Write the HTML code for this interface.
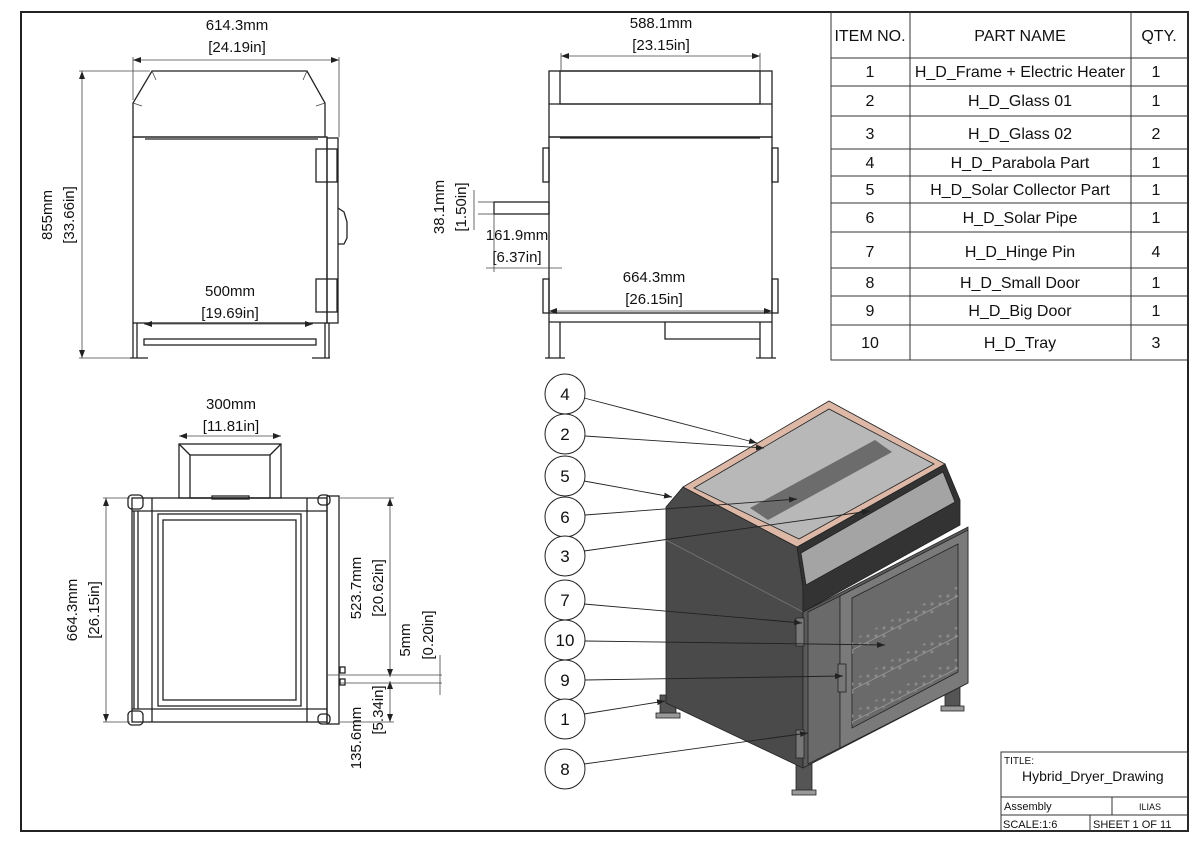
<!DOCTYPE html>
<html><head><meta charset="utf-8"><style>
html,body{margin:0;padding:0;background:#fff}
svg{display:block}
text{font-family:"Liberation Sans",sans-serif;fill:#111}
</style></head><body>
<svg width="1200" height="848" viewBox="0 0 1200 848" xmlns="http://www.w3.org/2000/svg">
<defs>
<marker id="a" markerWidth="8" markerHeight="6" refX="8" refY="3" orient="auto-start-reverse" markerUnits="userSpaceOnUse"><path d="M0,0 L8,3 L0,6z" fill="#222"/></marker>
<pattern id="dots" width="8" height="8" patternUnits="userSpaceOnUse"><circle cx="4" cy="4" r="1.6" fill="#888"/></pattern>
</defs>
<rect x="0" y="0" width="1200" height="848" fill="#fff"/>
<rect x="21" y="12" width="1167" height="819" fill="none" stroke="#222" stroke-width="2"/>

<!-- BOM table -->
<g stroke="#333" stroke-width="1" fill="none">
<rect x="831" y="12" width="357" height="348"/>
<line x1="910" y1="12" x2="910" y2="360"/><line x1="1131" y1="12" x2="1131" y2="360"/>
<line x1="831" y1="58" x2="1188" y2="58"/><line x1="831" y1="86" x2="1188" y2="86"/>
<line x1="831" y1="116" x2="1188" y2="116"/><line x1="831" y1="149" x2="1188" y2="149"/>
<line x1="831" y1="176" x2="1188" y2="176"/><line x1="831" y1="203" x2="1188" y2="203"/>
<line x1="831" y1="232" x2="1188" y2="232"/><line x1="831" y1="268" x2="1188" y2="268"/>
<line x1="831" y1="296" x2="1188" y2="296"/><line x1="831" y1="325" x2="1188" y2="325"/>
</g>
<g font-size="16" text-anchor="middle">
<text x="870" y="41">ITEM NO.</text><text x="1020" y="41">PART NAME</text><text x="1159" y="41">QTY.</text>
<text x="870" y="77">1</text><text x="1020" y="77">H_D_Frame + Electric Heater</text><text x="1156" y="77">1</text>
<text x="870" y="106">2</text><text x="1020" y="106">H_D_Glass 01</text><text x="1156" y="106">1</text>
<text x="870" y="139">3</text><text x="1020" y="139">H_D_Glass 02</text><text x="1156" y="139">2</text>
<text x="870" y="168">4</text><text x="1020" y="168">H_D_Parabola Part</text><text x="1156" y="168">1</text>
<text x="870" y="195">5</text><text x="1020" y="195">H_D_Solar Collector Part</text><text x="1156" y="195">1</text>
<text x="870" y="223">6</text><text x="1020" y="223">H_D_Solar Pipe</text><text x="1156" y="223">1</text>
<text x="870" y="257">7</text><text x="1020" y="257">H_D_Hinge Pin</text><text x="1156" y="257">4</text>
<text x="870" y="288">8</text><text x="1020" y="288">H_D_Small Door</text><text x="1156" y="288">1</text>
<text x="870" y="316">9</text><text x="1020" y="316">H_D_Big Door</text><text x="1156" y="316">1</text>
<text x="870" y="348">10</text><text x="1020" y="348">H_D_Tray</text><text x="1156" y="348">3</text>
</g>

<!-- Front view -->
<g stroke="#222" stroke-width="1.3" fill="none">
<path d="M133,137 L133,103 L152,71 L307,71 L325,103 L325,137 Z"/>
<line x1="145" y1="139" x2="318" y2="139"/>
<rect x="133" y="137" width="194" height="186"/>
<rect x="327" y="138" width="11" height="185"/>
<rect x="316" y="149" width="21" height="33"/><rect x="316" y="279" width="21" height="33"/>
<path d="M338,208 L344,212 L347,222 L347,238 L344,244 L338,244"/>
<line x1="133" y1="323" x2="133" y2="358"/><line x1="137" y1="323" x2="137" y2="358"/>
<line x1="325" y1="323" x2="325" y2="358"/><line x1="329" y1="323" x2="329" y2="358"/>
<rect x="144" y="339" width="172" height="6"/>
<line x1="130" y1="358" x2="148" y2="358"/><line x1="312" y1="358" x2="330" y2="358"/>
</g>
<g stroke="#444" stroke-width="0.8" fill="none">
<path d="M152,71 L156,80 M307,71 L303,80 M133,103 L142,106 M325,103 L316,106"/>
<line x1="133" y1="60" x2="339" y2="60" marker-start="url(#a)" marker-end="url(#a)"/>
<line x1="133" y1="57" x2="133" y2="100"/><line x1="339" y1="57" x2="339" y2="137"/>
<line x1="82" y1="71" x2="82" y2="358" marker-start="url(#a)" marker-end="url(#a)"/>
<line x1="79" y1="71" x2="150" y2="71"/><line x1="79" y1="358" x2="130" y2="358"/>
<line x1="144" y1="324" x2="313" y2="324" marker-start="url(#a)" marker-end="url(#a)"/>
</g>
<g font-size="15" text-anchor="middle">
<text x="237" y="30">614.3mm</text><text x="237" y="52">[24.19in]</text>
<text x="230" y="296">500mm</text><text x="230" y="318">[19.69in]</text>
<text transform="translate(52,215) rotate(-90)">855mm</text>
<text transform="translate(74,215) rotate(-90)">[33.66in]</text>
</g>

<!-- Side view -->
<g stroke="#222" stroke-width="1.3" fill="none">
<rect x="549" y="71" width="223" height="66"/>
<rect x="560" y="71" width="200" height="33"/>
<line x1="549" y1="104" x2="772" y2="104"/>
<line x1="560" y1="138" x2="760" y2="138"/>
<rect x="549" y="137" width="223" height="176"/>
<rect x="543" y="148" width="6" height="34"/><rect x="543" y="279" width="6" height="34"/>
<rect x="772" y="148" width="6" height="34"/><rect x="772" y="279" width="6" height="34"/>
<rect x="494" y="202" width="55" height="12"/>
<line x1="549" y1="322" x2="772" y2="322"/>
<line x1="549" y1="313" x2="549" y2="358"/><line x1="560" y1="322" x2="560" y2="358"/>
<line x1="760" y1="322" x2="760" y2="358"/><line x1="772" y1="313" x2="772" y2="358"/>
<path d="M665,322 L665,339 L760,339"/>
<line x1="545" y1="358" x2="565" y2="358"/><line x1="756" y1="358" x2="776" y2="358"/>
</g>
<g stroke="#444" stroke-width="0.8" fill="none">
<line x1="561" y1="56" x2="760" y2="56" marker-start="url(#a)" marker-end="url(#a)"/>
<line x1="561" y1="53" x2="561" y2="71"/><line x1="760" y1="53" x2="760" y2="71"/>
<line x1="549" y1="311" x2="772" y2="311" marker-start="url(#a)" marker-end="url(#a)"/>
<line x1="478" y1="202" x2="494" y2="202"/><line x1="478" y1="214" x2="494" y2="214"/>
<line x1="474" y1="190" x2="474" y2="230"/>
<line x1="486" y1="268" x2="562" y2="268"/>
<line x1="494" y1="214" x2="494" y2="272"/>
</g>
<g font-size="15" text-anchor="middle">
<text x="661" y="28">588.1mm</text><text x="661" y="50">[23.15in]</text>
<text x="654" y="282">664.3mm</text><text x="654" y="304">[26.15in]</text>
<text x="517" y="240">161.9mm</text><text x="517" y="262">[6.37in]</text>
<text transform="translate(444,207) rotate(-90)">38.1mm</text>
<text transform="translate(466,207) rotate(-90)">[1.50in]</text>
</g>

<!-- Top (plan) view -->
<g stroke="#222" stroke-width="1.3" fill="none">
<rect x="179" y="444" width="102" height="54"/>
<rect x="190" y="455" width="80" height="43"/>
<line x1="179" y1="444" x2="190" y2="455"/><line x1="281" y1="444" x2="270" y2="455"/>
<rect x="212" y="496" width="37" height="3"/>
<rect x="132" y="498" width="195" height="224"/>
<line x1="132" y1="511" x2="327" y2="511"/><line x1="132" y1="709" x2="327" y2="709"/>
<line x1="152" y1="498" x2="152" y2="722"/><line x1="307" y1="498" x2="307" y2="722"/>
<rect x="158" y="514" width="143" height="192"/>
<rect x="163" y="520" width="133" height="180"/>
<line x1="134" y1="511" x2="134" y2="709"/><line x1="138" y1="511" x2="138" y2="709"/>
<rect x="327" y="496" width="12" height="228"/>
<rect x="128" y="495" width="15" height="14" rx="4"/><rect x="128" y="711" width="15" height="14" rx="4"/>
<rect x="318" y="495" width="12" height="10" rx="4"/><rect x="318" y="714" width="12" height="10" rx="4"/>
<rect x="340" y="667" width="5" height="6"/><rect x="340" y="679" width="5" height="6"/>
</g>
<g stroke="#444" stroke-width="0.8" fill="none">
<line x1="179" y1="436" x2="281" y2="436" marker-start="url(#a)" marker-end="url(#a)"/>
<line x1="106" y1="498" x2="106" y2="722" marker-start="url(#a)" marker-end="url(#a)"/>
<line x1="103" y1="498" x2="130" y2="498"/><line x1="103" y1="722" x2="130" y2="722"/>
<line x1="390" y1="498" x2="390" y2="677" marker-start="url(#a)" marker-end="url(#a)"/>
<line x1="340" y1="498" x2="394" y2="498"/>
<line x1="390" y1="681" x2="390" y2="722" marker-start="url(#a)" marker-end="url(#a)"/>
<line x1="340" y1="722" x2="394" y2="722"/>
<line x1="327" y1="675" x2="442" y2="675"/><line x1="340" y1="683" x2="442" y2="683"/>
<line x1="440" y1="655" x2="440" y2="695"/>
</g>
<g font-size="15" text-anchor="middle">
<text x="231" y="409">300mm</text><text x="231" y="431">[11.81in]</text>
<text transform="translate(77,610) rotate(-90)">664.3mm</text>
<text transform="translate(99,610) rotate(-90)">[26.15in]</text>
<text transform="translate(361,588) rotate(-90)">523.7mm</text>
<text transform="translate(383,588) rotate(-90)">[20.62in]</text>
<text transform="translate(410,640) rotate(-90)">5mm</text>
<text transform="translate(433,635) rotate(-90)">[0.20in]</text>
<text transform="translate(361,738) rotate(-90)">135.6mm</text>
<text transform="translate(383,710) rotate(-90)">[5.34in]</text>
</g>

<!-- Isometric view -->
<g stroke="#222" stroke-width="0.8">
<!-- legs -->
<rect x="660" y="695" width="16" height="20" fill="#555"/>
<rect x="656" y="713" width="24" height="5" fill="#999"/>
<rect x="945" y="670" width="15" height="38" fill="#555"/>
<rect x="941" y="706" width="23" height="5" fill="#999"/>
<rect x="796" y="752" width="16" height="40" fill="#555"/>
<rect x="792" y="790" width="24" height="5" fill="#999"/>
<!-- left side -->
<path d="M666,507 L683,487 L797,547 L803,587 L803,768 L666,703 Z" fill="#4a4a4a"/>
<line x1="666" y1="540" x2="803" y2="612" stroke="#777"/>
<!-- lower front -->
<path d="M803,612 L968,527 L968,683 L803,768 Z" fill="#5a5a5a"/>
<path d="M808,612 L840,596 L840,748 L808,764 Z" fill="#6a6a6a"/>
<path d="M840,596 L968,530 L968,683 L840,748 Z" fill="#7a7a7a"/>
<path d="M852,598 L958,544 L958,672 L852,728 Z" fill="#6a6a6a"/>
<path d="M852,640 L958,586 L958,600 L852,654 Z" fill="url(#dots)" stroke="none"/>
<path d="M852,680 L958,626 L958,640 L852,694 Z" fill="url(#dots)" stroke="none"/>
<path d="M852,712 L958,658 L958,670 L852,724 Z" fill="url(#dots)" stroke="none"/>
<g stroke="#999" fill="none"><path d="M852,650 L958,596"/><path d="M852,690 L958,636"/><path d="M852,722 L958,668"/></g>
<rect x="796" y="618" width="8" height="28" fill="#777"/>
<rect x="796" y="730" width="8" height="28" fill="#777"/>
<rect x="838" y="664" width="8" height="28" fill="#777"/>
<!-- hood front -->
<path d="M797,547 L945,464 L960,500 L960,525 L803,612 L803,587 Z" fill="#333"/>
<path d="M801,553 L943,472 L955,502 L806,585 Z" fill="#a4a4a4"/>
<!-- glass top -->
<path d="M683,487 L829,401 L945,464 L797,547 Z" fill="#ddb8a6"/>
<path d="M694,488 L829,409 L934,464 L799,539 Z" fill="#b8b8b8"/>
<path d="M750,508 L875,440 L892,452 L768,520 Z" fill="#6c6c6c" stroke="none"/>
</g>
<!-- balloons -->
<g stroke="#222" stroke-width="1" fill="#fff">
<circle cx="565" cy="394" r="20"/><circle cx="565" cy="434" r="20"/><circle cx="565" cy="476" r="20"/>
<circle cx="565" cy="517" r="20"/><circle cx="565" cy="556" r="20"/><circle cx="565" cy="600" r="20"/>
<circle cx="565" cy="640" r="20"/><circle cx="565" cy="680" r="20"/><circle cx="565" cy="719" r="20"/>
<circle cx="565" cy="769" r="20"/>
</g>
<g stroke="#222" stroke-width="0.9" fill="none">
<line x1="584" y1="398" x2="757" y2="443" marker-end="url(#a)"/>
<line x1="585" y1="436" x2="764" y2="448" marker-end="url(#a)"/>
<line x1="584" y1="481" x2="672" y2="497" marker-end="url(#a)"/>
<line x1="585" y1="515" x2="797" y2="499" marker-end="url(#a)"/>
<line x1="584" y1="551" x2="870" y2="511" marker-end="url(#a)"/>
<line x1="584" y1="604" x2="802" y2="623" marker-end="url(#a)"/>
<line x1="585" y1="641" x2="885" y2="645" marker-end="url(#a)"/>
<line x1="585" y1="680" x2="843" y2="676" marker-end="url(#a)"/>
<line x1="584" y1="714" x2="665" y2="701" marker-end="url(#a)"/>
<line x1="584" y1="764" x2="808" y2="733" marker-end="url(#a)"/>
</g>
<g font-size="17" text-anchor="middle">
<text x="565" y="400">4</text><text x="565" y="440">2</text><text x="565" y="482">5</text>
<text x="565" y="523">6</text><text x="565" y="562">3</text><text x="565" y="606">7</text>
<text x="565" y="646">10</text><text x="565" y="686">9</text><text x="565" y="725">1</text>
<text x="565" y="775">8</text>
</g>

<!-- Title block -->
<g stroke="#333" stroke-width="1" fill="none">
<rect x="1001" y="752" width="187" height="79"/>
<line x1="1001" y1="797" x2="1188" y2="797"/><line x1="1001" y1="815" x2="1188" y2="815"/>
<line x1="1112" y1="797" x2="1112" y2="815"/><line x1="1090" y1="815" x2="1090" y2="831"/>
</g>
<text x="1004" y="764" font-size="10">TITLE:</text>
<text x="1022" y="781" font-size="14">Hybrid_Dryer_Drawing</text>
<text x="1004" y="810" font-size="11">Assembly</text>
<text x="1150" y="810" font-size="9" text-anchor="middle">ILIAS</text>
<text x="1003" y="828" font-size="11">SCALE:1:6</text>
<text x="1093" y="828" font-size="11">SHEET 1 OF 11</text>
</svg>
</body></html>
